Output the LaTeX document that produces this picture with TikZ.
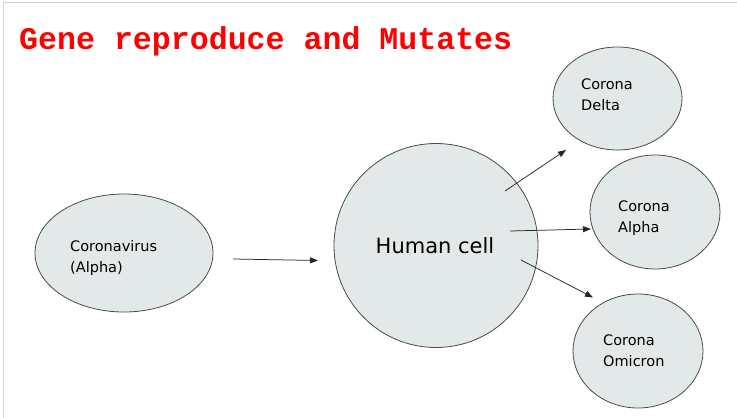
\documentclass[tikz,border=0pt]{standalone}
\usepackage{fontspec}
\setmainfont{DejaVu Sans}
\newfontfamily\titlefont{Liberation Mono}
\usetikzlibrary{shapes.geometric,arrows.meta}
\definecolor{cellfill}{HTML}{E3E8E8}
\definecolor{celldraw}{HTML}{4A4A4A}
\definecolor{framegrey}{HTML}{D4D4D4}
\definecolor{titlered}{HTML}{FF0000}
\tikzset{
  blob/.style={ellipse, draw=celldraw, fill=cellfill, line width=0.8pt, inner sep=0pt},
  lbl/.style={anchor=base west, align=left, inner sep=0pt, font=\fontsize{14.5}{21}\selectfont},
  flow/.style={draw=black!85, line width=0.75pt, -{Triangle[length=8pt,width=6pt]}}
}
\begin{document}
\begin{tikzpicture}[x=1pt,y=-1pt]
\useasboundingbox (0,0) rectangle (737,418);
\fill[white] (0,0) rectangle (737,418);
\draw[framegrey, line width=1pt] (3,418) -- (3,2.5) -- (737,2.5);
\node[anchor=base west, inner sep=0pt, text=titlered, font=\titlefont\bfseries\fontsize{31.6}{32}\selectfont] (title) at (19,49) {Gene reproduce and Mutates};
% shapes
\node[blob, minimum width=178pt, minimum height=118pt] (virus) at (124,253) {};
\node[blob, minimum width=204pt, minimum height=204pt] (cell) at (436,245.5) {};
\node[blob, minimum width=129pt, minimum height=103pt] (delta) at (617.5,98.5) {};
\node[blob, minimum width=130pt, minimum height=114pt] (alpha) at (655,212) {};
\node[blob, minimum width=130pt, minimum height=114pt] (omicron) at (638,351) {};
% texts (base anchor = baseline of the last line)
\node[lbl] (virustext) at (70,272) {Coronavirus\\(Alpha)};
\node[anchor=base, inner sep=0pt, font=\fontsize{21}{25}\selectfont] (celltext) at (435,253) {Human cell};
\node[lbl] (deltatext) at (581,110) {Corona\\Delta};
\node[lbl] (alphatext) at (618,232) {Corona\\Alpha};
\node[lbl] (omicrontext) at (603,366) {Corona\\Omicron};
% arrow ends
\coordinate (a1s) at (233,259);
\coordinate (a1e) at (318,260.5);
\coordinate (a2s) at (505,191);
\coordinate (a2e) at (566,150);
\coordinate (a3s) at (510,231);
\coordinate (a3e) at (591,229);
\coordinate (a4s) at (521,260);
\coordinate (a4e) at (593,297.5);
\draw[flow] (a1s) -- (a1e);
\draw[flow] (a2s) -- (a2e);
\draw[flow] (a3s) -- (a3e);
\draw[flow] (a4s) -- (a4e);
\end{tikzpicture}
\end{document}
